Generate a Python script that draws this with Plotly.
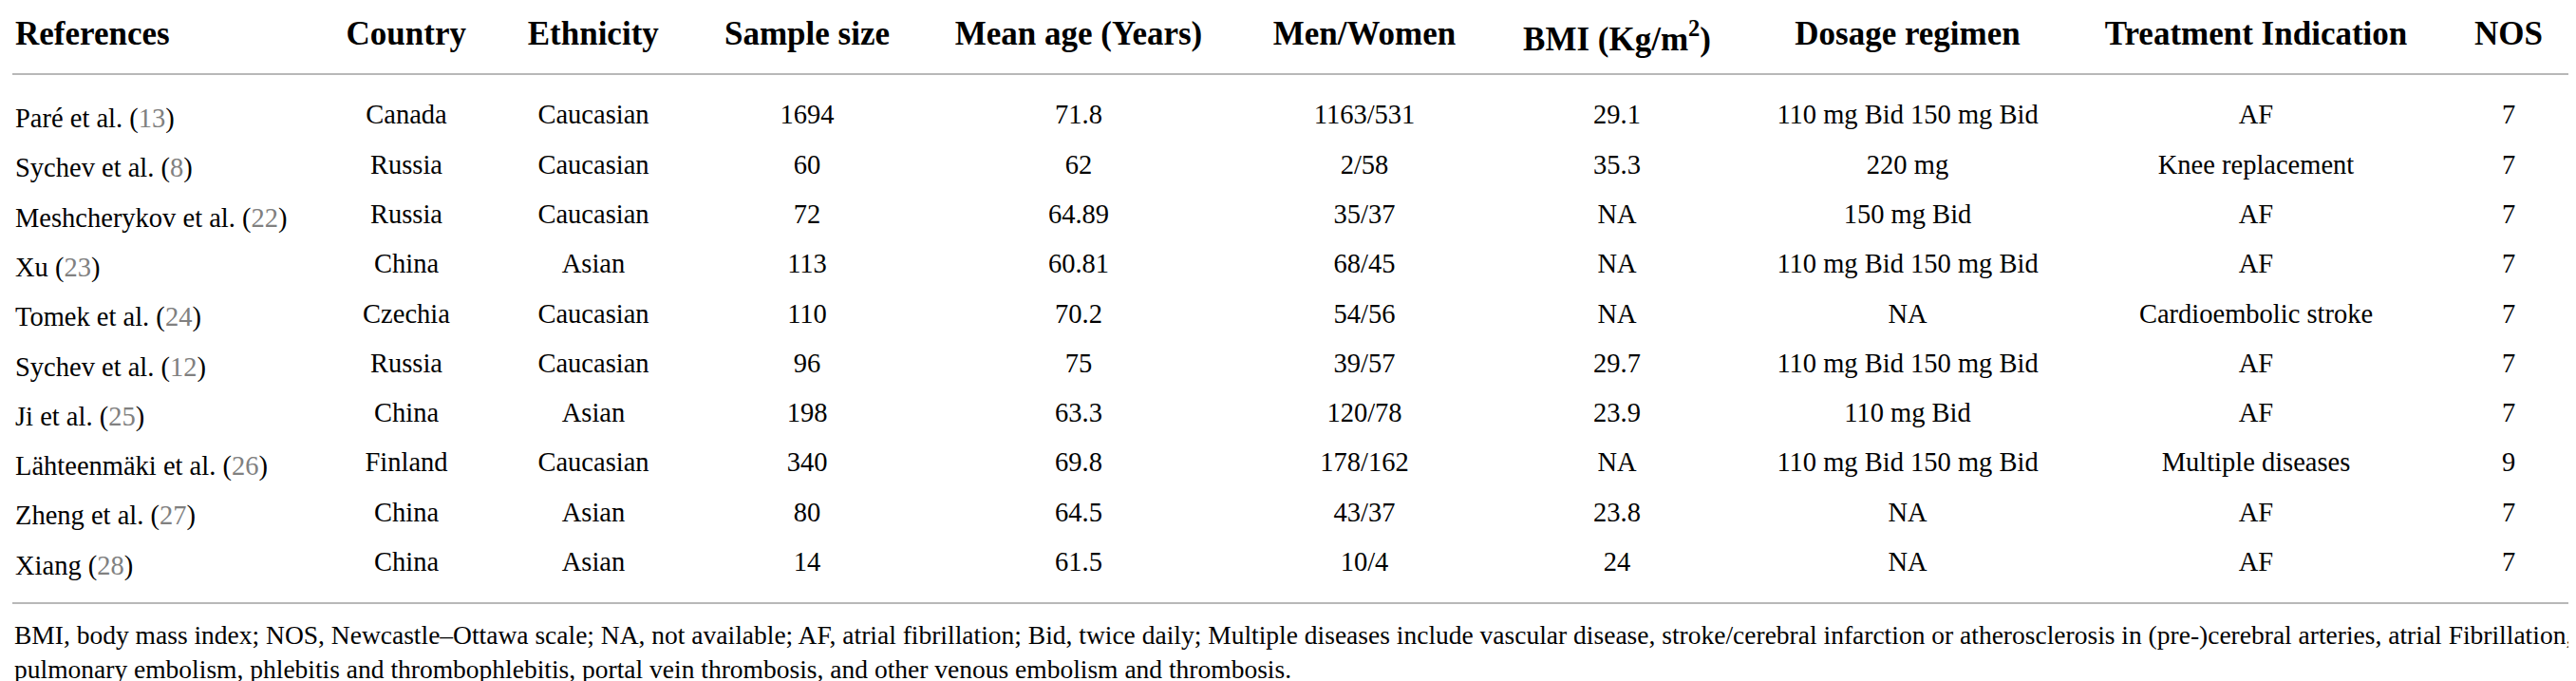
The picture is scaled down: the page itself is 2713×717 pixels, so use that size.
import plotly.graph_objects as go

# study characteristics
authors = ["Paré et al.", "Sychev et al.", "Meshcherykov et al.", "Xu", "Tomek et al.",
           "Sychev et al.", "Ji et al.", "Lähteenmäki et al.", "Zheng et al.", "Xiang"]
ref_nums = [13, 8, 22, 23, 24, 12, 25, 26, 27, 28]
country = ["Canada", "Russia", "Russia", "China", "Czechia", "Russia", "China", "Finland", "China", "China"]
ethnicity = ["Caucasian", "Caucasian", "Caucasian", "Asian", "Caucasian", "Caucasian", "Asian",
             "Caucasian", "Asian", "Asian"]
sample_size = [1694, 60, 72, 113, 110, 96, 198, 340, 80, 14]
mean_age = ["71.8", "62", "64.89", "60.81", "70.2", "75", "63.3", "69.8", "64.5", "61.5"]
men_women = ["1163/531", "2/58", "35/37", "68/45", "54/56", "39/57", "120/78", "178/162", "43/37", "10/4"]
bmi = ["29.1", "35.3", "NA", "NA", "NA", "29.7", "23.9", "NA", "23.8", "24"]
dosage = ["110 mg Bid 150 mg Bid", "220 mg", "150 mg Bid", "110 mg Bid 150 mg Bid", "NA",
          "110 mg Bid 150 mg Bid", "110 mg Bid", "110 mg Bid 150 mg Bid", "NA", "NA"]
indication = ["AF", "Knee replacement", "AF", "AF", "Cardioembolic stroke", "AF", "AF",
              "Multiple diseases", "AF", "AF"]
nos = [7, 7, 7, 7, 7, 7, 7, 9, 7, 7]

headers = ["References", "Country", "Ethnicity", "Sample size", "Mean age (Years)", "Men/Women",
           "BMI (Kg/m<sup>2</sup>)", "Dosage regimen", "Treatment Indication", "NOS"]

footnote1 = ("BMI, body mass index; NOS, Newcastle–Ottawa scale; NA, not available; AF, atrial fibrillation; "
             "Bid, twice daily; Multiple diseases include vascular disease, stroke/cerebral infarction or "
             "atherosclerosis in (pre-)cerebral arteries, atrial Fibrillation,")
footnote2 = ("pulmonary embolism, phlebitis and thrombophlebitis, portal vein thrombosis, "
             "and other venous embolism and thrombosis.")

W, H = 2713, 717
FONT = "Liberation Serif"
GREY_REF = "#808080"
RULE = "#b8b8b8"

# trailing <br> stops plotly from splitting the cell on spaces (keeps the span tag whole)
ref_labels = [f'{a} (<span style="color:{GREY_REF}">{n}</span>)<br>' for a, n in zip(authors, ref_nums)]

col_widths = [330, 180, 214, 236, 336, 266, 266, 346, 388, 144]

fig = go.Figure(go.Table(
    domain=dict(x=[0, sum(col_widths) / W], y=[0, 1]),
    columnwidth=col_widths,
    header=dict(
        values=[f"<b>{h}</b>" for h in headers],
        align=["left"] + ["center"] * 9,
        font=dict(family=FONT, size=35, color="black"),
        fill_color="white",
        line_color="white",
        height=93,
    ),
    cells=dict(
        values=[ref_labels, country, ethnicity, sample_size, mean_age, men_women, bmi, dosage, indication, nos],
        align=["left"] + ["center"] * 9,
        font=dict(family=FONT, size=28.5, color="black"),
        fill_color="white",
        line_color="white",
        height=52.3,
    ),
))


def py(px):
    return 1 - px / H


for ypx in (70, 627):
    fig.add_shape(type="line", xref="paper", yref="paper", x0=5 / W, x1=2707 / W,
                  y0=py(ypx), y1=py(ypx), line=dict(color=RULE, width=2))

for txt, ypx in ((footnote1, 660), (footnote2, 696)):
    fig.add_annotation(text=txt, xref="paper", yref="paper", x=5 / W, y=py(ypx),
                       xanchor="left", yanchor="middle", showarrow=False,
                       font=dict(family=FONT, size=27.5, color="black"))

fig.update_layout(width=W, height=H, margin=dict(l=0, r=0, t=0, b=0),
                  paper_bgcolor="white", plot_bgcolor="white")

fig.write_html("out.html")
